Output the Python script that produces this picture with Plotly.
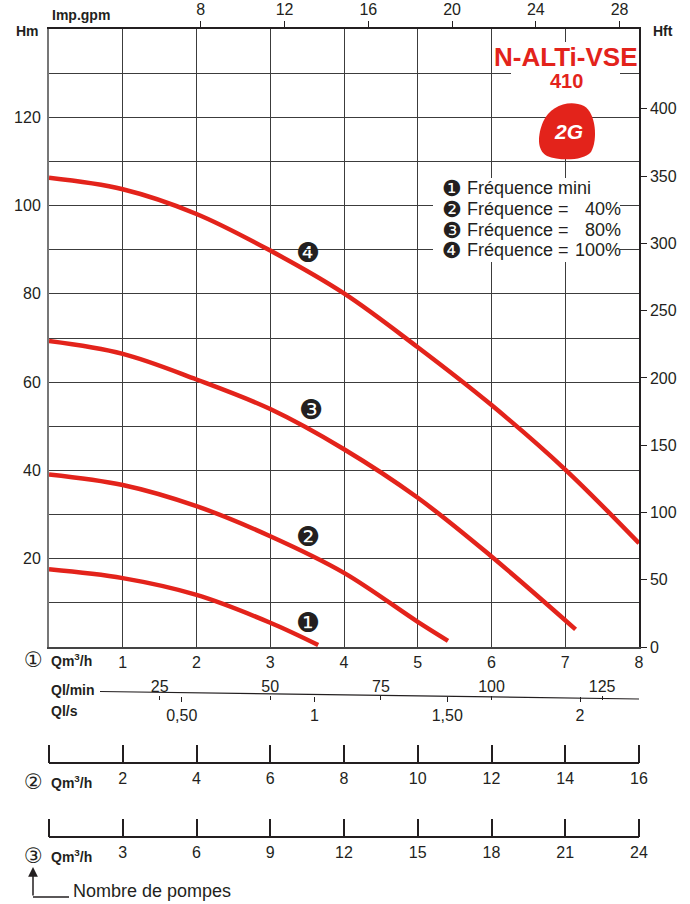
import plotly.graph_objects as go

# ---------------- data ----------------
# Head curves: flow Q (m3/h, one pump) -> head H (m)
q_mini = [0, 1, 2, 3, 3.65]
h_mini = [17.6, 15.6, 11.8, 5.5, 0.45]
q_40 = [0, 1, 2, 3, 4, 5, 5.41]
h_40 = [39.1, 36.7, 31.9, 25.1, 16.8, 5.7, 1.4]
q_80 = [0, 1, 2, 3, 4, 5, 6, 7.14]
h_80 = [69.3, 66.4, 60.6, 53.9, 44.8, 33.8, 20.5, 4.0]
q_100 = [0, 1, 2, 3, 4, 5, 6, 7, 8]
h_100 = [106.3, 103.7, 98.1, 89.8, 80.1, 67.9, 54.8, 40.2, 23.5]

curve_ids = ["❶", "❷", "❸", "❹"]
legend_names = ["Fréquence mini", "Fréquence =", "Fréquence =", "Fréquence ="]
legend_pcts = ["", "40%", "80%", "100%"]

# axis tick values / labels
q1_ticks = [0, 1, 2, 3, 4, 5, 6, 7, 8]
q2_ticks = [0, 2, 4, 6, 8, 10, 12, 14, 16]
q3_ticks = [0, 3, 6, 9, 12, 15, 18, 21, 24]
hm_ticks = list(range(0, 141, 10))
hm_labels = [str(v) if (v % 20 == 0 and 20 <= v <= 120) else " " for v in hm_ticks]
hft_ticks = [0, 50, 100, 150, 200, 250, 300, 350, 400]
gpm_ticks = [8, 12, 16, 20, 24, 28]
lmin_ticks = [25, 50, 75, 100, 125]
ls_ticks = [0.5, 1, 1.5, 2]
ls_labels = ["0,50", "1", "1,50", "2"]

# ---------------- geometry helpers ----------------
W, H = 690, 904
ML, MR, MT, MB = 49, 51, 29, 0
PLOT_BOTTOM = 647


def fx(p):
    return (p - ML) / (W - ML - MR)


def fy(p):
    return (H - MB - p) / (H - MT - MB)


RED = "#e3231b"
INK = "#231f20"
GRID = "#3c3c3c"
FONT = "Liberation Sans, Arial, Helvetica, sans-serif"
SYM = "DejaVu Sans"

fig = go.Figure()

for q, h in [(q_mini, h_mini), (q_40, h_40), (q_80, h_80), (q_100, h_100)]:
    fig.add_trace(go.Scatter(
        x=q, y=h, mode="lines",
        line=dict(color=RED, width=4.5, shape="spline", smoothing=1.0),
        hoverinfo="skip", showlegend=False))

# invisible anchor traces so every auxiliary axis is drawn
for xa, ticks in [("x2", gpm_ticks), ("x3", q2_ticks), ("x4", q3_ticks),
                  ("x5", lmin_ticks), ("x6", ls_ticks)]:
    fig.add_trace(go.Scatter(x=ticks, y=[0] * len(ticks), xaxis=xa, yaxis="y",
                             mode="markers", marker=dict(opacity=0),
                             hoverinfo="skip", showlegend=False))
fig.add_trace(go.Scatter(x=[0, 0], y=[hft_ticks[0], hft_ticks[-1]], xaxis="x", yaxis="y2",
                         mode="markers", marker=dict(opacity=0),
                         hoverinfo="skip", showlegend=False))

tickfont = dict(family=FONT, size=16, color=INK)
blank = " "

pump_axis = dict(overlaying="x", anchor="free", side="bottom",
                 ticks="inside", ticklen=18, tickwidth=2, tickcolor=INK,
                 showgrid=False, showline=False, zeroline=False,
                 tickfont=tickfont, ticklabelstandoff=4,
                 automargin=False, fixedrange=True)

fig.update_layout(
    width=W, height=H,
    margin=dict(l=ML, r=MR, t=MT, b=MB, pad=0),
    paper_bgcolor="white", plot_bgcolor="white",
    template="none",
    showlegend=False,
    xaxis=dict(range=[0, 8], tickvals=q1_ticks,
               ticktext=[blank] + [str(v) for v in q1_ticks[1:]],
               showgrid=True, gridcolor=GRID, gridwidth=1,
               showline=True, linecolor="#444", linewidth=2,
               ticks="", zeroline=False, tickfont=tickfont,
               automargin=False, fixedrange=True),
    yaxis=dict(range=[0, 140], domain=[fy(PLOT_BOTTOM), 1],
               tickvals=hm_ticks, ticktext=hm_labels,
               showgrid=True, gridcolor=GRID, gridwidth=1,
               showline=True, linecolor="#777", linewidth=2,
               ticks="", zeroline=False, tickfont=tickfont,
               ticklabelstandoff=3, automargin=False, fixedrange=True),
    yaxis2=dict(range=[0, 140 / 0.3048], overlaying="y", side="right", anchor="x",
                tickvals=hft_ticks, ticks="outside", ticklen=6, tickcolor=INK,
                showgrid=False, showline=True, linecolor=INK, linewidth=1.5,
                zeroline=False, tickfont=tickfont, automargin=False, fixedrange=True),
    xaxis2=dict(range=[0.75, 28.93], overlaying="x", side="top", anchor="y",
                tickvals=gpm_ticks, ticks="outside", ticklen=6, tickcolor=INK,
                showgrid=False, showline=True, linecolor=INK, linewidth=1.5,
                zeroline=False, tickfont=tickfont, automargin=False, fixedrange=True),
    xaxis3=dict(pump_axis, range=[0, 16], position=fy(763), tickvals=q2_ticks,
                ticktext=[blank] + [str(v) for v in q2_ticks[1:]]),
    xaxis4=dict(pump_axis, range=[0, 24], position=fy(837), tickvals=q3_ticks,
                ticktext=[blank] + [str(v) for v in q3_ticks[1:]]),
    xaxis5=dict(range=[0, 8 * 1000 / 60], overlaying="x", anchor="free", position=fy(695),
                side="top", tickvals=lmin_ticks, ticks="inside", ticklen=4,
                tickwidth=1, tickcolor=INK, showgrid=False, showline=False,
                zeroline=False, tickfont=tickfont, ticklabelstandoff=0,
                automargin=False, fixedrange=True),
    xaxis6=dict(range=[0, 8 / 3.6], overlaying="x", anchor="free", position=fy(696),
                side="bottom", tickvals=ls_ticks, ticktext=ls_labels,
                ticks="outside", ticklen=5, tickwidth=1, tickcolor=INK,
                showgrid=False, showline=False, zeroline=False,
                tickfont=tickfont, ticklabelstandoff=0,
                automargin=False, fixedrange=True),
)

shapes = []
# white boxes behind title and legend
shapes.append(dict(type="rect", xref="paper", yref="paper", layer="above",
                   x0=fx(511), x1=fx(620), y0=fy(104), y1=fy(42),
                   fillcolor="white", line=dict(width=0)))
shapes.append(dict(type="rect", xref="paper", yref="paper", layer="above",
                   x0=fx(433), x1=fx(620), y0=fy(262), y1=fy(178),
                   fillcolor="white", line=dict(width=0)))


def P(x, y):
    return f"{fx(x):.5f},{fy(y):.5f}"


# logo blob
logo_path = ("M " + P(543, 122) +
             " C " + P(550, 106) + " " + P(569, 99) + " " + P(584, 106) +
             " C " + P(596, 113) + " " + P(598, 140) + " " + P(591, 152) +
             " C " + P(584, 161) + " " + P(559, 161) + " " + P(547, 156) +
             " C " + P(536, 150) + " " + P(538, 134) + " " + P(543, 122) + " Z")
shapes.append(dict(type="path", xref="paper", yref="paper", layer="above",
                   path=logo_path, fillcolor=RED, line=dict(width=0)))
# base lines and end caps of the 2- and 3-pump flow scales
for yy in (763, 837):
    shapes.append(dict(type="line", xref="paper", yref="paper", layer="above",
                       x0=0, x1=1, y0=fy(yy), y1=fy(yy),
                       line=dict(color=INK, width=2)))
    for xe in (0, 1):
        shapes.append(dict(type="line", xref="paper", yref="paper", layer="above",
                           x0=xe, x1=xe, y0=fy(yy), y1=fy(yy - 18),
                           line=dict(color=INK, width=2)))
# slanted Ql/min line
shapes.append(dict(type="line", xref="paper", yref="paper", layer="above",
                   x0=fx(100), y0=fy(691.5), x1=fx(639), y1=fy(699),
                   line=dict(color=INK, width=1.2)))
# "Nombre de pompes" bracket
shapes.append(dict(type="line", xref="paper", yref="paper",
                   x0=fx(33), y0=fy(897), x1=fx(69), y1=fy(897),
                   line=dict(color=INK, width=1.5)))
fig.update_layout(shapes=shapes)

ann = []


def A(text, x, y, size, xanchor="center", family=FONT, color=INK, yanchor="middle"):
    ann.append(dict(text=text, x=fx(x), y=fy(y), xref="paper", yref="paper",
                    xanchor=xanchor, yanchor=yanchor, showarrow=False,
                    font=dict(family=family, size=size, color=color)))


# corner axis titles
A("<b>Hm</b>", 27, 31, 14)
A("<b>Hft</b>", 663, 31, 14)
A("<b>Imp.gpm</b>", 50, 15, 14, xanchor="left")

# title
A("<b>N-ALTi-VSE</b>", 565, 57, 26, color=RED)
A("<b>410</b>", 566, 81, 20, color=RED)
A("<b><i>2G</i></b>", 568, 131, 21, color="white")

# legend
legend_y = [188, 209, 230, 250]
for cid, name, pct, yy in zip(curve_ids, legend_names, legend_pcts, legend_y):
    A(cid, 440, yy, 22, xanchor="left", family=SYM)
    A(name, 465, yy, 18, xanchor="left")
    if pct:
        A(pct, 623, yy, 18, xanchor="right")

# curve labels
for cid, (lx, ly) in zip(curve_ids, [(308, 622), (308, 536), (311, 409), (308, 252)]):
    A(cid, lx, ly, 27, family=SYM)

# bottom scale captions
for circ, yy in [("①", 660), ("②", 782), ("③", 856)]:
    A(circ, 33, yy, 21, family=SYM)
    A("<b>Qm<sup>3</sup>/h</b>", 49, yy, 14, xanchor="left")
A("<b>Ql/min</b>", 49, 690, 14, xanchor="left")
A("<b>Ql/s</b>", 49, 711, 14, xanchor="left")
A("Nombre de pompes", 71, 891, 18, xanchor="left")

# arrow to circled number
ann.append(dict(text="", x=fx(33), y=fy(867), xref="paper", yref="paper",
                ax=0, ay=30, showarrow=True, arrowhead=2, arrowsize=1.3,
                arrowwidth=1.5, arrowcolor=INK))

fig.update_layout(annotations=ann)

fig.write_html("out.html", config={"displayModeBar": False},
               post_script="document.body.style.margin='0';document.body.style.overflow='hidden';")
